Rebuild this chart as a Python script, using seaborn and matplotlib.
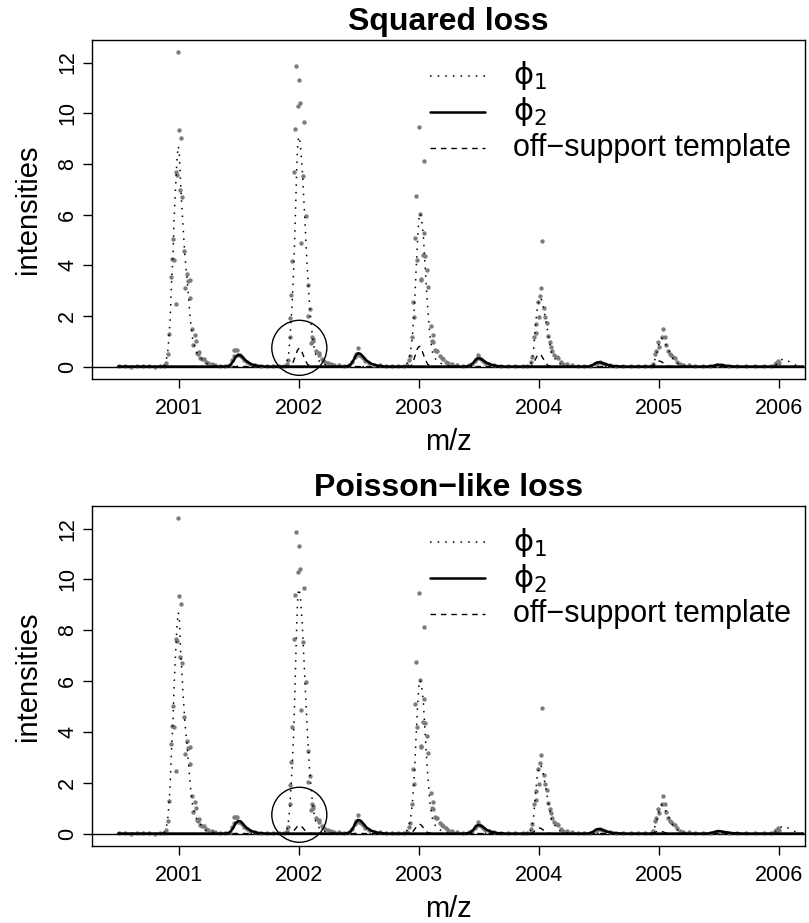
import matplotlib
matplotlib.use("Agg")
import matplotlib.pyplot as plt
import numpy as np
import seaborn as sns

# ---------------- observed intensities (gray points) ----------------
obs_mz_base = [2000.50, 2000.55, 2000.60, 2000.65, 2000.70, 2000.75, 2000.80, 2000.84, 2000.87]
obs_in_base = [0.01, 0.02, 0.00, 0.01, 0.02, 0.01, 0.00, 0.02, 0.04]

obs_mz_2001 = [2000.892, 2000.903, 2000.917, 2000.928, 2000.942, 2000.945, 2000.956, 2000.970, 2000.975, 2000.978,
               2000.987, 2000.995, 2001.006, 2001.017, 2001.025, 2001.039, 2001.050, 2001.064, 2001.075, 2001.089,
               2001.092, 2001.103, 2001.117, 2001.128, 2001.139, 2001.148, 2001.155, 2001.162, 2001.175, 2001.190,
               2001.203, 2001.220, 2001.242, 2001.270, 2001.300, 2001.340, 2001.380]
obs_in_2001 = [0.13, 0.49, 1.28, 3.54, 4.24, 5.03, 4.21, 2.48, 7.66, 7.58,
               12.41, 9.34, 6.95, 9.03, 6.71, 4.58, 3.12, 3.66, 3.38, 3.42,
               2.72, 1.48, 0.86, 1.25, 0.99, 0.55, 0.50, 0.58, 0.35, 0.30,
               0.29, 0.18, 0.13, 0.10, 0.06, 0.04, 0.03]

obs_mz_2001h = [2001.42, 2001.44, 2001.452, 2001.458, 2001.468, 2001.478, 2001.49, 2001.505, 2001.52, 2001.54,
                2001.56, 2001.59, 2001.63, 2001.68, 2001.73, 2001.78, 2001.83, 2001.87]
obs_in_2001h = [0.08, 0.25, 0.42, 0.64, 0.66, 0.67, 0.46, 0.44, 0.36, 0.25,
                0.17, 0.10, 0.06, 0.04, 0.03, 0.02, 0.02, 0.03]

obs_mz_2002 = [2001.895, 2001.906, 2001.920, 2001.922, 2001.933, 2001.942, 2001.956, 2001.967, 2001.975, 2001.989,
               2001.995, 2002.006, 2002.017, 2002.028, 2002.037, 2002.053, 2002.070, 2002.075, 2002.092, 2002.100,
               2002.108, 2002.112, 2002.117, 2002.135, 2002.160, 2002.168, 2002.185, 2002.200, 2002.217, 2002.240,
               2002.260, 2002.290, 2002.330, 2002.370, 2002.410]
obs_in_2002 = [0.10, 0.24, 1.16, 1.93, 2.83, 4.18, 7.67, 9.38, 11.87, 10.30,
               11.31, 10.40, 4.88, 7.54, 9.66, 5.95, 3.23, 2.01, 2.27, 0.92,
               1.18, 1.08, 1.00, 0.62, 0.52, 0.45, 0.30, 0.25, 0.17, 0.15,
               0.12, 0.08, 0.05, 0.04, 0.05]

obs_mz_2002h = [2002.44, 2002.46, 2002.475, 2002.487, 2002.50, 2002.515, 2002.53, 2002.55, 2002.58, 2002.62,
                2002.67, 2002.72, 2002.77, 2002.82, 2002.87, 2002.90]
obs_in_2002h = [0.18, 0.36, 0.48, 0.72, 0.47, 0.42, 0.33, 0.22, 0.14, 0.08,
                0.05, 0.03, 0.02, 0.02, 0.03, 0.06]

obs_mz_2003 = [2002.912, 2002.925, 2002.936, 2002.948, 2002.953, 2002.967, 2002.975, 2002.980, 2003.000, 2003.006,
               2003.012, 2003.017, 2003.031, 2003.037, 2003.039, 2003.045, 2003.064, 2003.073, 2003.095, 2003.105,
               2003.111, 2003.118, 2003.130, 2003.140, 2003.150, 2003.170, 2003.190, 2003.200, 2003.220, 2003.240,
               2003.270, 2003.310, 2003.360, 2003.410]
obs_in_2003 = [0.24, 0.40, 1.18, 2.53, 1.97, 5.09, 6.74, 4.21, 9.46, 6.03,
               3.45, 3.42, 4.40, 8.11, 5.29, 4.35, 3.82, 3.16, 1.60, 1.00,
               1.26, 0.95, 0.65, 0.62, 0.60, 0.42, 0.32, 0.30, 0.20, 0.14,
               0.10, 0.06, 0.04, 0.05]

obs_mz_2003h = [2003.44, 2003.46, 2003.475, 2003.489, 2003.50, 2003.515, 2003.53, 2003.55, 2003.58, 2003.62,
                2003.68, 2003.74, 2003.80, 2003.86, 2003.90]
obs_in_2003h = [0.10, 0.22, 0.30, 0.47, 0.33, 0.30, 0.22, 0.15, 0.09, 0.05,
                0.03, 0.02, 0.02, 0.02, 0.03]

obs_mz_2004 = [2003.931, 2003.939, 2003.956, 2003.970, 2003.975, 2003.987, 2003.998, 2004.008, 2004.017, 2004.025,
               2004.035, 2004.048, 2004.062, 2004.075, 2004.089, 2004.095, 2004.108, 2004.125, 2004.145, 2004.155,
               2004.180, 2004.200, 2004.230, 2004.270, 2004.320, 2004.370, 2004.420]
obs_in_2004 = [0.17, 0.39, 1.16, 1.69, 1.32, 2.55, 1.97, 2.78, 3.09, 4.96,
               2.30, 1.95, 1.71, 1.20, 0.96, 0.79, 0.60, 0.45, 0.36, 0.32,
               0.18, 0.12, 0.09, 0.06, 0.04, 0.03, 0.04]

obs_mz_2004h = [2004.46, 2004.48, 2004.506, 2004.52, 2004.55, 2004.59, 2004.64, 2004.70, 2004.76, 2004.82,
                2004.88, 2004.93]
obs_in_2004h = [0.10, 0.15, 0.17, 0.16, 0.10, 0.05, 0.03, 0.02, 0.02, 0.02,
                0.02, 0.04]

obs_mz_2005 = [2004.950, 2004.964, 2004.975, 2004.989, 2005.000, 2005.020, 2005.033, 2005.047, 2005.056, 2005.070,
               2005.089, 2005.100, 2005.115, 2005.130, 2005.150, 2005.170, 2005.200, 2005.250, 2005.300]
obs_in_2005 = [0.10, 0.51, 0.60, 0.96, 0.79, 1.18, 1.49, 1.15, 0.84, 0.60,
               0.51, 0.45, 0.36, 0.32, 0.20, 0.12, 0.08, 0.05, 0.03]

obs_mz_tail = [2005.36, 2005.42, 2005.48, 2005.52, 2005.58, 2005.65, 2005.72, 2005.80, 2005.87, 2005.93,
               2005.96, 2005.975, 2005.99, 2006.00]
obs_in_tail = [0.02, 0.03, 0.06, 0.06, 0.03, 0.02, 0.02, 0.02, 0.02, 0.04,
               0.10, 0.13, 0.22, 0.15]

# ---------------- phi_1 (dotted) ----------------
phi1_mz = [2000.49, 2000.85,
           2000.870, 2000.886, 2000.903, 2000.912, 2000.923, 2000.934, 2000.948, 2000.956, 2000.969, 2000.982,
           2000.992, 2001.000, 2001.012, 2001.028, 2001.045, 2001.070, 2001.092, 2001.112, 2001.148, 2001.217,
           2001.300, 2001.400,
           2001.860, 2001.895, 2001.912, 2001.923, 2001.940, 2001.953, 2001.962, 2001.970, 2001.978, 2001.988,
           2001.997, 2002.008, 2002.025, 2002.039, 2002.053, 2002.067, 2002.084, 2002.109, 2002.131, 2002.175,
           2002.250, 2002.350,
           2002.880, 2002.906, 2002.925, 2002.942, 2002.961, 2002.973, 2002.987, 2002.998, 2003.006, 2003.018,
           2003.034, 2003.050, 2003.067, 2003.089, 2003.111, 2003.145, 2003.220, 2003.320,
           2003.900, 2003.930, 2003.950, 2003.964, 2003.980, 2003.995, 2004.012, 2004.030, 2004.050, 2004.070,
           2004.100, 2004.155, 2004.230, 2004.330,
           2004.930, 2004.955, 2004.980, 2005.000, 2005.020, 2005.040, 2005.060, 2005.090, 2005.120, 2005.170,
           2005.270,
           2005.950, 2005.980, 2006.000, 2006.030, 2006.060, 2006.100, 2006.140, 2006.200]
phi1_squared = [0.00, 0.00,
                0.03, 0.13, 0.53, 1.05, 1.84, 3.16, 4.47, 5.78, 7.10, 8.30,
                8.70, 8.40, 7.10, 5.78, 4.47, 3.16, 1.84, 1.05, 0.53, 0.13,
                0.03, 0.00,
                0.00, 0.13, 0.53, 1.18, 2.50, 3.82, 5.13, 6.45, 7.76, 8.90,
                9.08, 8.80, 7.76, 6.45, 5.13, 3.82, 2.50, 1.18, 0.53, 0.13,
                0.03, 0.00,
                0.00, 0.20, 0.53, 1.18, 2.50, 3.82, 5.13, 5.90, 6.05, 5.85,
                5.13, 3.82, 2.50, 1.18, 0.53, 0.20, 0.04, 0.00,
                0.00, 0.13, 0.55, 1.38, 2.20, 2.60, 2.72, 2.45, 1.90, 1.38,
                0.55, 0.13, 0.03, 0.00,
                0.00, 0.15, 0.55, 0.95, 1.12, 1.05, 0.80, 0.55, 0.25, 0.07,
                0.00,
                0.00, 0.10, 0.22, 0.30, 0.26, 0.14, 0.05, 0.00]
phi1_poisson = [0.00, 0.00,
                0.03, 0.13, 0.53, 1.05, 1.84, 3.16, 4.47, 5.78, 7.10, 8.30,
                8.70, 8.40, 7.10, 5.78, 4.47, 3.16, 1.84, 1.05, 0.53, 0.13,
                0.03, 0.00,
                0.00, 0.13, 0.55, 1.22, 2.60, 4.00, 5.40, 6.80, 8.20, 9.40,
                9.64, 9.35, 8.20, 6.80, 5.40, 4.00, 2.60, 1.22, 0.55, 0.13,
                0.03, 0.00,
                0.00, 0.20, 0.53, 1.18, 2.50, 3.82, 5.13, 5.90, 6.04, 5.85,
                5.13, 3.82, 2.50, 1.18, 0.53, 0.20, 0.04, 0.00,
                0.00, 0.13, 0.55, 1.36, 2.15, 2.58, 2.70, 2.42, 1.88, 1.36,
                0.55, 0.13, 0.03, 0.00,
                0.00, 0.15, 0.55, 0.95, 1.13, 1.06, 0.80, 0.55, 0.25, 0.07,
                0.00,
                0.00, 0.10, 0.22, 0.30, 0.26, 0.14, 0.05, 0.00]

# ---------------- phi_2 (solid) ----------------
phi2_mz = [2000.49,
           2001.38, 2001.42, 2001.45, 2001.47, 2001.49, 2001.51, 2001.53, 2001.56, 2001.60, 2001.65, 2001.72,
           2002.38, 2002.42, 2002.45, 2002.47, 2002.49, 2002.51, 2002.53, 2002.56, 2002.60, 2002.65, 2002.72,
           2003.38, 2003.42, 2003.45, 2003.47, 2003.49, 2003.51, 2003.53, 2003.56, 2003.60, 2003.65, 2003.72,
           2004.38, 2004.42, 2004.45, 2004.47, 2004.49, 2004.51, 2004.53, 2004.56, 2004.60, 2004.65, 2004.72,
           2005.38, 2005.42, 2005.45, 2005.47, 2005.49, 2005.51, 2005.53, 2005.56, 2005.60, 2005.65, 2005.72,
           2006.20]
phi2_squared = [0.0,
                0.00, 0.04, 0.21, 0.38, 0.46, 0.44, 0.35, 0.21, 0.09, 0.03, 0.00,
                0.00, 0.04, 0.24, 0.43, 0.53, 0.50, 0.40, 0.24, 0.11, 0.04, 0.00,
                0.00, 0.03, 0.15, 0.27, 0.33, 0.31, 0.25, 0.15, 0.07, 0.02, 0.00,
                0.00, 0.01, 0.08, 0.14, 0.17, 0.16, 0.13, 0.08, 0.03, 0.01, 0.00,
                0.00, 0.01, 0.03, 0.06, 0.07, 0.07, 0.05, 0.03, 0.01, 0.00, 0.00,
                0.0]
phi2_poisson = [0.0,
                0.00, 0.04, 0.23, 0.41, 0.50, 0.48, 0.38, 0.23, 0.10, 0.03, 0.00,
                0.00, 0.04, 0.24, 0.44, 0.54, 0.51, 0.41, 0.24, 0.11, 0.04, 0.00,
                0.00, 0.03, 0.15, 0.28, 0.34, 0.32, 0.26, 0.15, 0.07, 0.02, 0.00,
                0.00, 0.01, 0.08, 0.15, 0.18, 0.17, 0.14, 0.08, 0.04, 0.01, 0.00,
                0.00, 0.01, 0.05, 0.08, 0.10, 0.09, 0.07, 0.05, 0.02, 0.01, 0.00,
                0.0]

# ---------------- off-support template (dashed) ----------------
tmpl_mz = [2000.49,
           2001.93, 2001.95, 2001.97, 2001.985, 2002.00, 2002.015, 2002.03, 2002.05, 2002.07, 2002.10,
           2002.93, 2002.95, 2002.97, 2002.985, 2003.00, 2003.015, 2003.03, 2003.05, 2003.07, 2003.10,
           2003.93, 2003.95, 2003.97, 2003.985, 2004.00, 2004.015, 2004.03, 2004.05, 2004.07, 2004.10,
           2004.93, 2004.95, 2004.97, 2004.985, 2005.00, 2005.015, 2005.03, 2005.05, 2005.07, 2005.10,
           2006.20]
tmpl_squared = [0.0,
                0.00, 0.20, 0.45, 0.65, 0.73, 0.66, 0.48, 0.24, 0.08, 0.00,
                0.00, 0.22, 0.50, 0.72, 0.80, 0.73, 0.53, 0.27, 0.09, 0.00,
                0.00, 0.13, 0.31, 0.45, 0.50, 0.45, 0.33, 0.17, 0.05, 0.00,
                0.00, 0.06, 0.14, 0.20, 0.22, 0.20, 0.15, 0.07, 0.02, 0.00,
                0.0]
tmpl_poisson = [0.0,
                0.00, 0.09, 0.20, 0.29, 0.33, 0.30, 0.22, 0.11, 0.04, 0.00,
                0.00, 0.10, 0.23, 0.33, 0.37, 0.34, 0.25, 0.12, 0.04, 0.00,
                0.00, 0.06, 0.14, 0.20, 0.22, 0.20, 0.15, 0.07, 0.02, 0.00,
                0.00, 0.03, 0.06, 0.09, 0.10, 0.09, 0.07, 0.03, 0.01, 0.00,
                0.0]

circle_mz = [2002.0]
circle_in = [0.74]

x_ticks = [2001, 2002, 2003, 2004, 2005, 2006]
y_ticks = [0, 2, 4, 6, 8, 10, 12]
titles = ["Squared loss", "Poisson\u2212like loss"]
legend_labels = ["$\\mathrm{\u03d5}_1$", "$\\mathrm{\u03d5}_2$", "off\u2212support template"]

obs_mz = (obs_mz_base + obs_mz_2001 + obs_mz_2001h + obs_mz_2002 + obs_mz_2002h + obs_mz_2003
          + obs_mz_2003h + obs_mz_2004 + obs_mz_2004h + obs_mz_2005 + obs_mz_tail)
obs_in = (obs_in_base + obs_in_2001 + obs_in_2001h + obs_in_2002 + obs_in_2002h + obs_in_2003
          + obs_in_2003h + obs_in_2004 + obs_in_2004h + obs_in_2005 + obs_in_tail)

# ---------------- styling ----------------
sns.set_style("ticks")
plt.rcParams["font.family"] = ["Liberation Sans", "DejaVu Sans"]
plt.rcParams["mathtext.fontset"] = "dejavusans"
plt.rcParams["text.color"] = "black"
plt.rcParams["axes.labelcolor"] = "black"
plt.rcParams["axes.titlecolor"] = "black"

DOT = (0, (1.0, 4.0))
DASH = (0, (4.0, 3.5))

fig = plt.figure(figsize=(8.09, 9.23), dpi=100)
rects = [[0.1141, 0.5894, 0.8810, 0.3673], [0.1141, 0.0834, 0.8810, 0.3684]]
phi1_sets = [phi1_squared, phi1_poisson]
phi2_sets = [phi2_squared, phi2_poisson]
tmpl_sets = [tmpl_squared, tmpl_poisson]

for i in range(2):
    ax = fig.add_axes(rects[i])
    ax.axhline(0, color="black", lw=1.0, zorder=1)
    sns.scatterplot(x=obs_mz, y=obs_in, ax=ax, color="#7c7c7c", s=10, linewidth=0, zorder=2)
    sns.lineplot(x=phi1_mz, y=phi1_sets[i], ax=ax, color="black", lw=1.1, linestyle=DOT,
                 estimator=None, sort=False, zorder=3)
    sns.lineplot(x=phi2_mz, y=phi2_sets[i], ax=ax, color="black", lw=1.8, linestyle="-",
                 estimator=None, sort=False, zorder=3)
    sns.lineplot(x=tmpl_mz, y=tmpl_sets[i], ax=ax, color="black", lw=1.0, linestyle=DASH,
                 estimator=None, sort=False, zorder=3)
    ax.scatter(circle_mz, circle_in, s=1570, facecolors="none", edgecolors="black", linewidths=1.0, zorder=4)

    ax.set_xlim(2000.275, 2006.214)
    ax.set_ylim(-0.49, 12.89)
    ax.set_xticks(x_ticks)
    ax.set_yticks(y_ticks)
    ax.set_xticklabels([str(t) for t in x_ticks])
    ax.set_yticklabels([str(t) for t in y_ticks], rotation=90, va="center")
    ax.tick_params(axis="both", direction="out", length=6.5, width=1.0, color="black",
                   labelsize=15.5, labelcolor="black")
    ax.tick_params(axis="x", pad=7)
    ax.tick_params(axis="y", pad=3.6)
    for sp in ax.spines.values():
        sp.set_visible(True)
        sp.set_color("black")
        sp.set_linewidth(1.0)

    ax.set_xlabel("m/z", fontsize=21, color="black")
    ax.set_ylabel("intensities", fontsize=21, color="black")
    ax.xaxis.set_label_coords(0.5, -0.145)
    ax.yaxis.set_label_coords(-0.071, 0.5)
    ax.set_title(titles[i], fontsize=23, fontweight="bold", pad=7.2, color="black")

    # legend (no box, as in base R)
    leg_y = [0.894, 0.788, 0.681]
    styles = [(DOT, 1.1), ("-", 1.8), (DASH, 1.0)]
    for yy, (ls, lw), lab in zip(leg_y, styles, legend_labels):
        ax.plot([0.474, 0.551], [yy, yy], transform=ax.transAxes, color="black", lw=lw, linestyle=ls)
        ax.text(0.590, yy, lab, transform=ax.transAxes, fontsize=22, va="center", ha="left", color="black")

fig.savefig("out.png", dpi=100)
